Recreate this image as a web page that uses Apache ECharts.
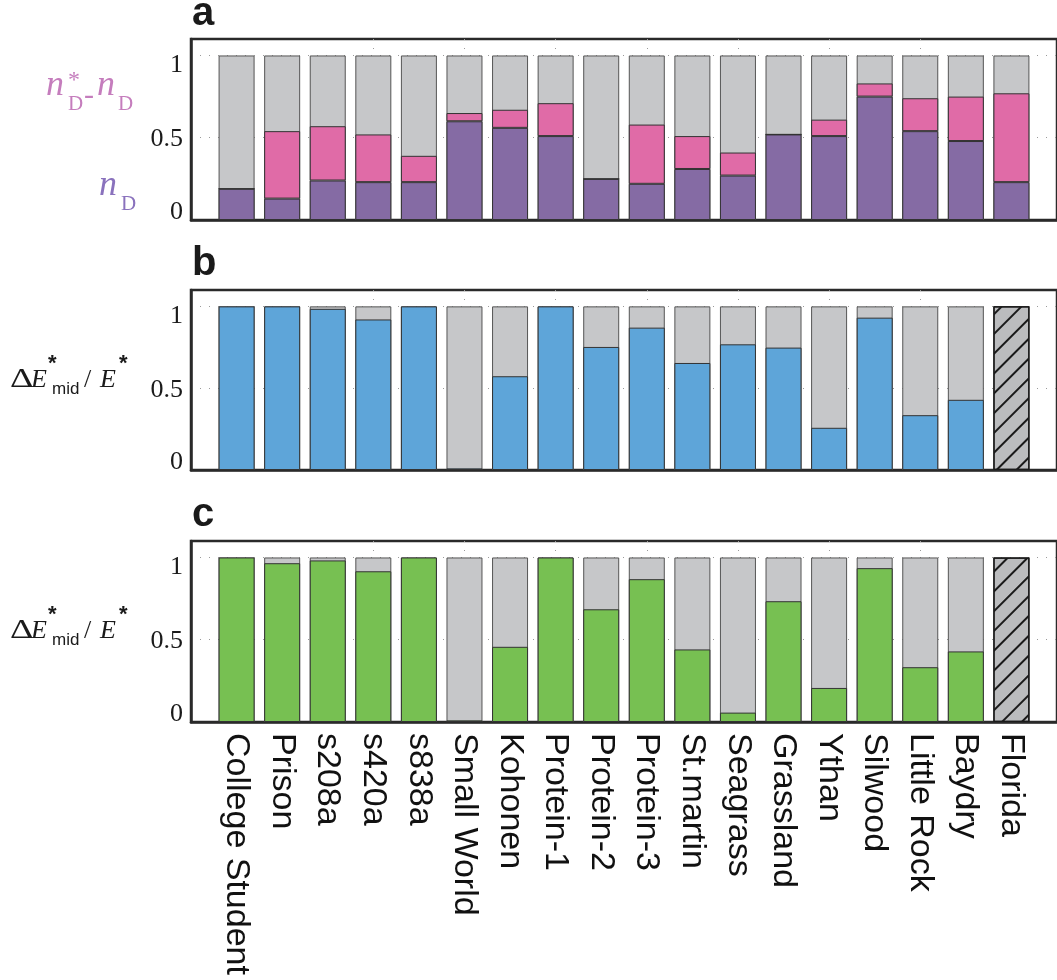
<!DOCTYPE html>
<html><head><meta charset="utf-8">
<script src="https://cdn.jsdelivr.net/npm/echarts@6/dist/echarts.min.js"></script>
<style>html,body{margin:0;padding:0;background:#fff}#c{width:1057px;height:980px}</style>
</head><body><div id="c"></div>
<script>
// ---------------- data ----------------
const categories = ['College Student','Prison','s208a','s420a','s838a','Small World','Kohonen','Protein-1','Protein-2','Protein-3','St.martin','Seagrass','Grassland','Ythan','Silwood','Little Rock','Baydry','Florida'];
// panel a: n_D (purple) and n*_D - n_D (pink)
const nD        = [0.19,0.13,0.24,0.23,0.23,0.60,0.56,0.51,0.25,0.22,0.31,0.27,0.52,0.51,0.75,0.54,0.48,0.23];
const nDstarMinusnD = [0.00,0.41,0.33,0.29,0.16,0.05,0.11,0.20,0.00,0.36,0.20,0.14,0.00,0.10,0.08,0.20,0.27,0.54];
// full-height reference (grey background bars)
const total     = [1,1,1,1,1,1,1,1,1,1,1,1,1,1,1,1,1,1];
// panel b and c: ΔE*mid / E*
const dEmidB    = [1.00,1.00,0.985,0.92,1.00,0.01,0.573,1.00,0.752,0.870,0.654,0.768,0.748,0.258,0.931,0.335,0.429,null];
const dEmidC    = [1.00,0.965,0.982,0.916,1.00,0.01,0.457,1.00,0.685,0.868,0.441,0.057,0.734,0.207,0.935,0.333,0.429,null];
// categories with no data (hatched)
const missing   = [null,null,null,null,null,null,null,null,null,null,null,null,null,null,null,null,null,1];
const yTickLabels = ['0','0.5','1'];

// ---------------- chart ----------------
const chart = echarts.init(document.getElementById('c'), null, {renderer:'canvas'});
const pad = a => [null].concat(a, [null]);
const xCats = [''].concat(categories, ['']);
const SERIF = '"Liberation Serif", "Times New Roman", serif';
const SANS = '"Liberation Sans", Arial, sans-serif';
const GRID_COLOR = '#9a9a9a';
const FRAME = '#2a2a2a';

const gridDefs = [{top:39,height:181},{top:290,height:180},{top:541,height:181}];
const grids = gridDefs.map(g => ({left:191,width:870,top:g.top,height:g.height,show:true,
  borderColor:FRAME,borderWidth:2.5,backgroundColor:'transparent'}));

const xAxes = gridDefs.map((g,i) => ({
  type:'category', gridIndex:i, data:xCats, boundaryGap:false,
  axisLine:{show:true, lineStyle:{color:FRAME,width:2.5}}, axisTick:{show:false},
  axisLabel:{show:i===2, rotate:-90, interval:0, margin:11, fontFamily:SANS, fontSize:34, color:'#111'},
  splitLine:{show:true, showMinLine:false, showMaxLine:false, interval:(idx)=> idx>0 && idx%2===0,
    lineStyle:{color:GRID_COLOR,type:[1,8],width:1}}
}));

const yAxes = gridDefs.map((g,i) => ({
  type:'value', gridIndex:i, min:0, max:1.1, interval:0.5,
  axisLine:{show:true, lineStyle:{color:FRAME,width:2.5}}, axisTick:{show:false},
  splitLine:{show:true, showMinLine:false, showMaxLine:false, lineStyle:{color:GRID_COLOR,type:[1,8],width:1}},
  axisLabel:{margin:8, color:'#1a1a1a', fontFamily:SERIF, fontSize:26, showMaxLabel:false,
    formatter: v => v===1 ? '{t|'+yTickLabels[2]+'}' : v===0.5 ? '{m|'+yTickLabels[1]+'}' : v===0 ? '{b|'+yTickLabels[0]+'}' : '',
    rich:{
      t:{fontFamily:SERIF,fontSize:26,color:'#1a1a1a',padding:[19,0,0,0]},
      m:{fontFamily:SERIF,fontSize:26,color:'#1a1a1a',padding:[3,0,0,0]},
      b:{fontFamily:SERIF,fontSize:26,color:'#1a1a1a',padding:[0,0,15,0]}
    }}
}));

const BORDER = '#333';
function bar(name, gi, data, color, extra){
  return Object.assign({type:'bar', name, xAxisIndex:gi, yAxisIndex:gi, data:pad(data),
    barWidth:36, barGap:'-100%', animation:false,
    itemStyle:{color, borderColor:BORDER, borderWidth:1}}, extra||{});
}
const hatchStyle = {color:'#bbbcbe', borderColor:'#1a1a1a', borderWidth:1.2,
  decal:{symbol:'rect', symbolSize:1, dashArrayX:[1,0], dashArrayY:[1.2,11.8], rotation:-Math.PI/4, color:'#1a1a1a'}};
const greyStyle = {color:'#c6c7c9',borderColor:'#555',borderWidth:1};

const series = [
  bar('rest', 0, total, '#c6c7c9', {itemStyle:greyStyle}),
  bar('nD', 0, nD, '#856ba4', {stack:'a'}),
  bar('nD*-nD', 0, nDstarMinusnD, '#e06ba7', {stack:'a'}),
  bar('rest', 1, total, '#c6c7c9', {itemStyle:greyStyle}),
  bar('dEmid', 1, dEmidB, '#5ea5d9'),
  bar('no data', 1, missing, '#bbbcbe', {itemStyle:hatchStyle}),
  bar('rest', 2, total, '#c6c7c9', {itemStyle:greyStyle}),
  bar('dEmid', 2, dEmidC, '#77c052'),
  bar('no data', 2, missing, '#bbbcbe', {itemStyle:hatchStyle})
];

function t(x, y, text, font, fill, sx){
  const el = {type:'text', x, y, z:10, style:{text, font, fill, textAlign:'left', align:'left', textVerticalAlign:'middle', verticalAlign:'middle'}};
  if (sx) el.scaleX = sx;
  return el;
}
const PINK = '#c57dbd', PURP = '#8a72bd';
const nIt = 'italic 36px ' + SERIF, sub = '21px ' + SERIF;
function emidLabel(dy){
  const E = 'italic 26px ' + SERIF;
  return [
    t(10, 380+dy, 'Δ', '27px ' + SERIF, '#1a1a1a', 1.35),
    t(31, 380+dy, 'E', E, '#1a1a1a'),
    t(48, 364+dy, '*', 'bold 22px ' + SANS, '#1a1a1a'),
    t(52, 389+dy, 'mid', '17px ' + SANS, '#1a1a1a'),
    t(84, 380+dy, '/', '26px ' + SERIF, '#1a1a1a'),
    t(100, 380+dy, 'E', E, '#1a1a1a'),
    t(119, 364+dy, '*', 'bold 22px ' + SANS, '#1a1a1a')
  ];
}
const graphics = [
  t(192, 14, 'a', 'bold 40px ' + SANS, '#1a1a1a'),
  t(192, 264, 'b', 'bold 40px ' + SANS, '#1a1a1a'),
  t(192, 515, 'c', 'bold 40px ' + SANS, '#1a1a1a'),
  // n*_D - n_D
  t(46, 86, 'n', nIt, PINK),
  t(68, 81, '*', '24px ' + SERIF, PINK),
  t(68, 104.5, 'D', sub, PINK),
  t(84, 96, '-', '30px ' + SERIF, PINK),
  t(97, 86, 'n', nIt, PINK),
  t(118, 104.5, 'D', sub, PINK),
  // n_D
  t(99, 186, 'n', nIt, PURP),
  t(121, 204, 'D', sub, PURP)
].concat(emidLabel(0), emidLabel(251));

chart.setOption({
  animation:false,
  backgroundColor:'#fff',
  grid:grids, xAxis:xAxes, yAxis:yAxes, series,
  graphic:{elements:graphics}
});
</script></body></html>
